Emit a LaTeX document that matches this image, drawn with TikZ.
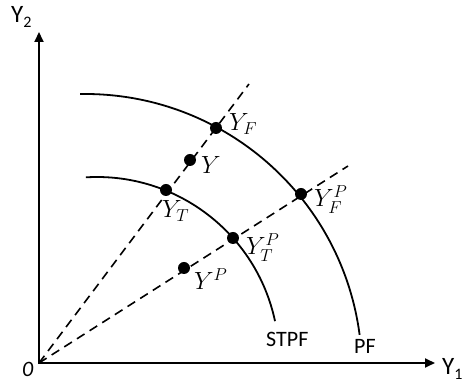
\documentclass[tikz,border=0pt]{standalone}
\usepackage{fontspec}
\newfontfamily\sansf{Carlito}
\usetikzlibrary{arrows.meta}
\begin{document}
\begin{tikzpicture}[x=1pt,y=1pt,
  axis/.style={line width=1.8pt, {Triangle[length=10pt,width=9pt]}-{Triangle[length=10pt,width=9pt]}},
  ray/.style={line width=1.6pt, dash pattern=on 9pt off 6pt},
  curve/.style={line width=1.8pt},
  pt/.style={circle, fill=black, inner sep=0pt, minimum size=12pt},
  slab/.style={font=\sansf\fontsize{22}{26}\selectfont, inner sep=0pt, anchor=base west},
  alab/.style={font=\sansf\fontsize{25}{30}\selectfont, inner sep=0pt, anchor=base west},
  mlab/.style={font=\fontsize{25}{30}\selectfont, inner sep=0pt, anchor=base west}]
\useasboundingbox (0,0) rectangle (467,383);
\coordinate (O) at (39,20);
\coordinate (Ytop) at (39,351);
\coordinate (Xend) at (435,20);
\coordinate (R1) at (249,299);
\coordinate (R2) at (348,217);
\coordinate (PFc) at (85,12);
\coordinate (STc) at (97,24);
% rays
\draw[ray] (O) -- (R1);
\draw[ray] (O) -- (R2);
% frontiers
\draw[curve] (PFc) ++(91:277) arc[start angle=91, end angle=7.5, radius=277];
\draw[curve] (STc) ++(93.5:182) arc[start angle=93.5, end angle=12, radius=182];
% axes
\draw[axis] (Ytop) -- (O) -- (Xend);
% points
\node[pt] (yf) at (216,255) {};
\node[pt] (y) at (190,223) {};
\node[pt] (yt) at (166,193) {};
\node[pt] (ytp) at (233,145) {};
\node[pt] (yp) at (184,115) {};
\node[pt] (yfp) at (301,189) {};
% point labels
\node[mlab] (lyf) at (229,252) {$Y_F$};
\node[mlab] (ly) at (201,209) {$Y$};
\node[mlab] (lyt) at (162,165) {$Y_T$};
\node[mlab] (lytp) at (246,128) {$Y_T^P$};
\node[mlab] (lyp) at (194,93) {$Y^P$};
\node[mlab] (lyfp) at (314,176) {$Y_F^P$};
% curve labels
\node[slab] (lst) at (266,36) {STPF};
\node[slab] (lpf) at (354,29) {PF};
% axis labels
\node[alab] (ly1) at (442,8) {Y\raisebox{-5pt}{\fontsize{16}{19}\selectfont 1}};
\node[alab] (ly2) at (11,360) {Y\raisebox{-5pt}{\fontsize{16}{19}\selectfont 2}};
\node[slab] (lo) at (22,6) {\itshape 0};
\end{tikzpicture}
\end{document}
